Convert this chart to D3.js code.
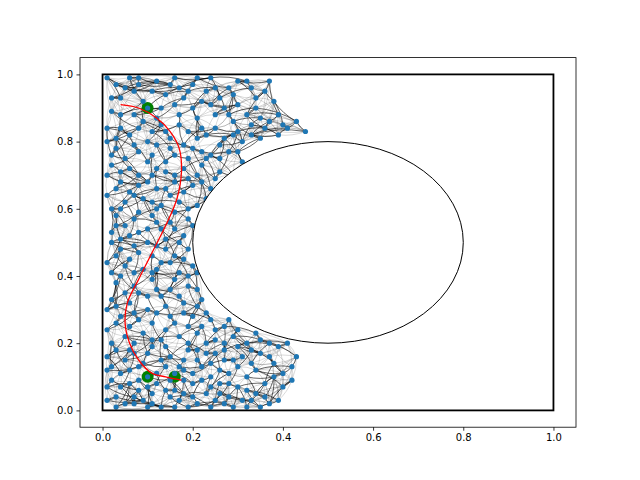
<!DOCTYPE html>
<html><head><meta charset="utf-8">
<script src="https://cdn.jsdelivr.net/npm/d3@7"></script>
<style>body{margin:0;background:#fff}</style></head>
<body><svg id="c" width="640" height="480"></svg>
<script>
const nodes = [
[0.1,0.9],[0.03,0.97],[0.06,0.99],[0.12,0.98],[0.16,0.99],[0.2,0.97],[0.24,0.99],[0.28,0.96],[0.32,0.98],[0.36,0.95],
[0.02,0.93],[0.07,0.95],[0.14,0.94],[0.18,0.93],[0.22,0.92],[0.26,0.93],[0.3,0.91],[0.34,0.9],[0.38,0.92],[0.04,0.88],
[0.09,0.86],[0.13,0.9],[0.17,0.88],[0.21,0.87],[0.25,0.88],[0.29,0.86],[0.33,0.85],[0.37,0.86],[0.41,0.84],[0.01,0.84],
[0.06,0.82],[0.11,0.83],[0.15,0.81],[0.19,0.83],[0.23,0.82],[0.27,0.81],[0.31,0.8],[0.35,0.81],[0.39,0.82],[0.03,0.78],
[0.08,0.77],[0.12,0.79],[0.16,0.76],[0.2,0.78],[0.24,0.76],[0.28,0.77],[0.31,0.74],[0.02,0.73],[0.06,0.72],[0.1,0.74],
[0.14,0.71],[0.18,0.72],[0.22,0.73],[0.26,0.71],[0.29,0.7],[0.04,0.68],[0.08,0.67],[0.12,0.66],[0.16,0.68],[0.2,0.67],
[0.24,0.66],[0.01,0.64],[0.05,0.62],[0.09,0.63],[0.13,0.61],[0.17,0.62],[0.21,0.61],[0.03,0.58],[0.07,0.57],[0.11,0.58],
[0.15,0.56],[0.19,0.57],[0.02,0.53],[0.06,0.52],[0.1,0.54],[0.14,0.51],[0.18,0.52],[0.04,0.48],[0.08,0.47],[0.12,0.49],
[0.16,0.46],[0.19,0.48],[0.01,0.44],[0.05,0.43],[0.09,0.42],[0.13,0.44],[0.17,0.41],[0.2,0.43],[0.03,0.38],[0.07,0.37],
[0.11,0.39],[0.15,0.36],[0.19,0.37],[0.02,0.33],[0.06,0.32],[0.1,0.34],[0.14,0.31],[0.18,0.32],[0.22,0.33],[0.04,0.28],
[0.08,0.27],[0.12,0.29],[0.16,0.26],[0.2,0.28],[0.24,0.27],[0.27,0.25],[0.01,0.24],[0.05,0.22],[0.09,0.23],[0.13,0.21],
[0.17,0.22],[0.21,0.23],[0.25,0.21],[0.29,0.22],[0.32,0.2],[0.03,0.18],[0.07,0.17],[0.11,0.19],[0.15,0.16],[0.19,0.18],
[0.23,0.17],[0.27,0.18],[0.31,0.16],[0.35,0.17],[0.39,0.19],[0.02,0.13],[0.06,0.12],[0.1,0.1],[0.14,0.13],[0.18,0.12],
[0.22,0.13],[0.26,0.12],[0.3,0.13],[0.34,0.12],[0.38,0.14],[0.42,0.13],[0.04,0.07],[0.08,0.06],[0.12,0.08],[0.16,0.06],
[0.2,0.08],[0.24,0.07],[0.28,0.08],[0.32,0.06],[0.36,0.08],[0.4,0.07],[0.01,0.03],[0.05,0.02],[0.09,0.03],[0.13,0.01],
[0.17,0.03],[0.21,0.02],[0.25,0.03],[0.29,0.01],[0.33,0.03],[0.37,0.02],
[0.05,0.96],[0.09,0.92],[0.19,0.95],[0.27,0.9],[0.32,0.88],[0.04,0.84],[0.13,0.85],[0.22,0.84],[0.3,0.83],[0.36,0.84],
[0.01,0.8],[0.1,0.8],[0.18,0.79],[0.26,0.79],[0.05,0.75],[0.14,0.74],[0.23,0.75],[0.01,0.7],[0.11,0.7],[0.19,0.69],
[0.07,0.64],[0.15,0.64],[0.23,0.63],[0.02,0.6],[0.12,0.6],[0.19,0.6],[0.05,0.55],[0.13,0.54],[0.02,0.5],[0.1,0.5],
[0.17,0.5],[0.06,0.45],[0.15,0.44],[0.02,0.41],[0.11,0.41],[0.19,0.4],[0.05,0.35],[0.13,0.34],[0.21,0.36],[0.01,0.3],
[0.1,0.3],[0.18,0.29],[0.06,0.25],[0.14,0.24],[0.22,0.25],[0.3,0.24],[0.02,0.2],[0.11,0.21],[0.19,0.2],[0.27,0.2],
[0.35,0.21],[0.05,0.15],[0.13,0.15],[0.21,0.15],[0.29,0.15],[0.37,0.16],[0.08,0.13],[0.16,0.11],[0.24,0.1],[0.32,0.1],
[0.4,0.11],[0.02,0.09],[0.1,0.07],[0.18,0.09],[0.26,0.05],[0.34,0.05],[0.07,0.04],[0.15,0.04],[0.23,0.05],[0.31,0.03],
[0.03,0.01],[0.11,0.02],[0.19,0.01],[0.27,0.02],[0.35,0.01],[0.08,0.99],[0.15,0.97],[0.23,0.95],[0.3,0.98],[0.34,0.93]
];
// second batch of nodes filling the denser areas
const nodesExtra = [
[0.01,0.99],[0.04,0.93],[0.08,0.97],[0.11,0.95],[0.17,0.96],[0.21,0.99],[0.25,0.96],[0.29,0.94],[0.33,0.96],[0.37,0.98],
[0.02,0.89],[0.07,0.88],[0.12,0.87],[0.16,0.91],[0.2,0.9],[0.24,0.91],[0.28,0.88],[0.35,0.87],[0.39,0.88],[0.43,0.86],
[0.03,0.81],[0.08,0.84],[0.14,0.83],[0.17,0.85],[0.21,0.81],[0.25,0.84],[0.29,0.82],[0.33,0.82],[0.4,0.85],[0.45,0.83],
[0.02,0.76],[0.07,0.79],[0.11,0.76],[0.15,0.78],[0.19,0.75],[0.22,0.77],[0.26,0.75],[0.3,0.77],[0.04,0.71],[0.08,0.7],
[0.12,0.72],[0.16,0.7],[0.21,0.7],[0.25,0.69],[0.03,0.66],[0.06,0.65],[0.1,0.68],[0.14,0.66],[0.18,0.65],[0.22,0.68],
[0.04,0.6],[0.08,0.59],[0.11,0.62],[0.16,0.59],[0.2,0.55],[0.03,0.55],[0.08,0.53],[0.12,0.56],[0.16,0.54],[0.04,0.51],
[0.07,0.49],[0.11,0.46],[0.14,0.48],[0.18,0.45],[0.03,0.46],[0.07,0.41],[0.12,0.42],[0.16,0.39],[0.21,0.41],[0.04,0.4],
[0.08,0.35],[0.12,0.36],[0.17,0.34],[0.21,0.31],[0.03,0.31],[0.07,0.29],[0.11,0.26],[0.15,0.28],[0.19,0.25],[0.25,0.24],
[0.03,0.26],[0.07,0.2],[0.1,0.17],[0.14,0.19],[0.18,0.15],[0.23,0.2],[0.27,0.15],[0.33,0.18],[0.37,0.2],[0.41,0.2],
[0.01,0.16],[0.04,0.11],[0.08,0.09],[0.12,0.11],[0.15,0.09],[0.2,0.11],[0.24,0.14],[0.28,0.11],[0.33,0.14],[0.43,0.16],
[0.01,0.07],[0.06,0.08],[0.11,0.05],[0.14,0.06],[0.18,0.05],[0.22,0.09],[0.26,0.08],[0.3,0.07],[0.38,0.1],[0.42,0.09],
[0.03,0.04],[0.07,0.02],[0.1,0.01],[0.16,0.01],[0.2,0.04],[0.24,0.01],[0.28,0.04],[0.32,0.01],[0.36,0.04],[0.39,0.03],
[0.01,0.12],[0.06,0.18],[0.09,0.14],[0.17,0.13],[0.21,0.18],[0.25,0.17],[0.3,0.19],[0.34,0.23],[0.28,0.27],[0.23,0.29]
];
const pathX = [0.04,0.08,0.12,0.15,0.17,0.175,0.165,0.14,0.11,0.08,0.055,0.05,0.06,0.08,0.11,0.14,0.175];
const pathY = [0.91,0.9,0.87,0.83,0.78,0.71,0.63,0.55,0.47,0.39,0.32,0.26,0.2,0.15,0.11,0.1,0.09];
const goals = [[0.1,0.9],[0.1,0.1],[0.16,0.1]];
const xTicks = [0,0.2,0.4,0.6,0.8,1.0];
const yTicks = [0,0.2,0.4,0.6,0.8,1.0];

const svg = d3.select('#c');
const x = d3.scaleLinear().domain([-0.05,1.05]).range([80,576]);
const y = d3.scaleLinear().domain([-0.05,1.05]).range([427.2,57.6]);
const all = nodes.concat(nodesExtra);

// links between each node and its neighbours, drawn as gentle arcs
const edges = [];
all.forEach((p,i) => {
  const near = all.map((q,j)=>[j,(q[0]-p[0])**2+(q[1]-p[1])**2]).filter(d=>d[0]!==i)
    .sort((a,b)=>a[1]-b[1]).slice(0,14);
  near.forEach((n,k) => {
    if (k < 2 || k % 2 === 0) edges.push({a:p, b:all[n[0]], bend:(k%3?1:-1)*0.12, dark:k===0 || k===10});
  });
});
const arc = d => {
  const x1=x(d.a[0]), y1=y(d.a[1]), x2=x(d.b[0]), y2=y(d.b[1]);
  const mx=(x1+x2)/2 - (y2-y1)*d.bend, my=(y1+y2)/2 + (x2-x1)*d.bend;
  return `M${x1},${y1}Q${mx},${my} ${x2},${y2}`;
};
svg.append('g').selectAll('path').data(edges).enter().append('path')
  .attr('d',arc).attr('fill','none').attr('stroke','#000')
  .attr('stroke-opacity',d=>d.dark?0.75:0.3).attr('stroke-width',d=>d.dark?0.8:0.5);

svg.append('g').selectAll('circle').data(goals).enter().append('circle')
  .attr('cx',d=>x(d[0])).attr('cy',d=>y(d[1])).attr('r',6).attr('fill','#008000');

svg.append('g').selectAll('circle').data(all).enter().append('circle')
  .attr('cx',d=>x(d[0])).attr('cy',d=>y(d[1])).attr('r',2.6).attr('fill','#1f77b4');

// walls
svg.append('rect').attr('x',x(0)).attr('y',y(1)).attr('width',x(1)-x(0)).attr('height',y(0)-y(1))
  .attr('fill','none').attr('stroke','#000').attr('stroke-width',1.8);
svg.append('ellipse').attr('cx',x(0.5)).attr('cy',y(0.5)).attr('rx',x(0.8)-x(0.5)).attr('ry',y(0.2)-y(0.5))
  .attr('fill','#fff').attr('stroke','#000').attr('stroke-width',1);

const line = d3.line().curve(d3.curveCatmullRom).x(d=>x(d[0])).y(d=>y(d[1]));
svg.append('path').attr('d',line(pathX.map((v,i)=>[v,pathY[i]])))
  .attr('fill','none').attr('stroke','red').attr('stroke-width',1.3);

// axes frame
svg.append('rect').attr('x',80).attr('y',57.6).attr('width',496).attr('height',369.6)
  .attr('fill','none').attr('stroke','#000').attr('stroke-width',0.8);
const ax = svg.append('g').attr('transform','translate(0,427.2)')
  .call(d3.axisBottom(x).tickValues(xTicks).tickFormat(d3.format('.1f')).tickSize(3.5).tickPadding(3.5));
const ay = svg.append('g').attr('transform','translate(80,0)')
  .call(d3.axisLeft(y).tickValues(yTicks).tickFormat(d3.format('.1f')).tickSize(3.5).tickPadding(3.5));
[ax,ay].forEach(a=>{a.select('.domain').remove();
  a.selectAll('text').attr('font-family','DejaVu Sans').attr('font-size',10).attr('fill','#000');
  a.selectAll('line').attr('stroke','#000').attr('stroke-width',0.8);});
</script></body></html>
